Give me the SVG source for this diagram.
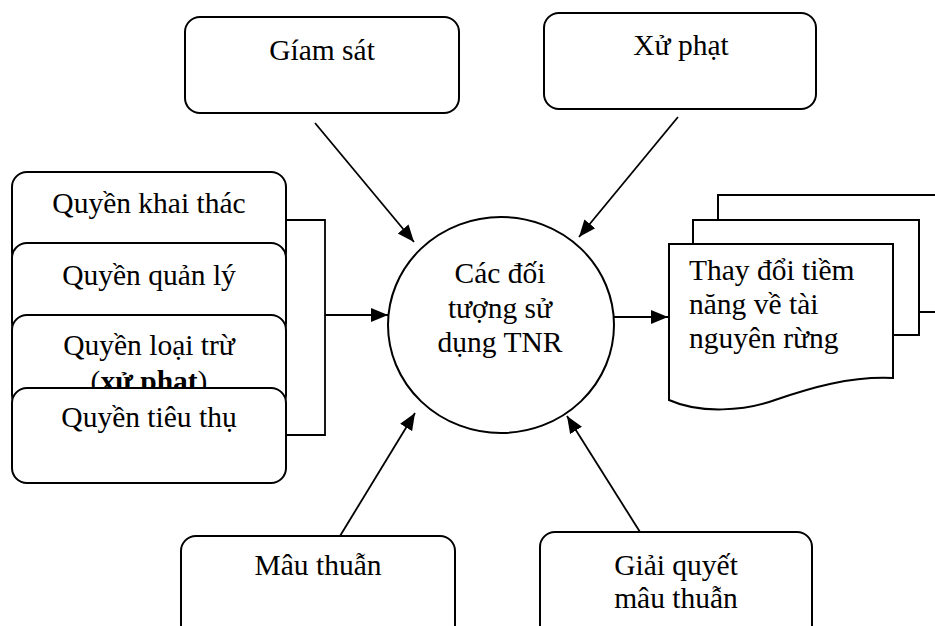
<svg xmlns="http://www.w3.org/2000/svg" width="935" height="626" viewBox="0 0 935 626">
  <style>
    .box { fill: #fff; stroke: #000; stroke-width: 2; }
    .ln { fill: none; stroke: #000; stroke-width: 1.8; }
    .t { font-family: "Liberation Serif", "Times New Roman", serif; font-size: 29.5px; fill: #000; }
    .c { text-anchor: middle; }
  </style>
  <defs>
    <marker id="arrow" markerUnits="userSpaceOnUse" markerWidth="18" markerHeight="16" refX="17" refY="8" orient="auto">
      <path d="M0,1 L17,8 L0,15 Z" fill="#000"/>
    </marker>
  </defs>
  <rect width="935" height="626" fill="#fff"/>

  <!-- connectors -->
  <g id="connectors">
    <line class="ln" x1="315" y1="123" x2="414" y2="242" marker-end="url(#arrow)"/>
    <line class="ln" x1="678" y1="117" x2="579" y2="237" marker-end="url(#arrow)"/>
    <line class="ln" x1="340" y1="536" x2="415" y2="413" marker-end="url(#arrow)"/>
    <line class="ln" x1="640" y1="532" x2="567" y2="416" marker-end="url(#arrow)"/>
    <path class="ln" d="M286,220 H325 V435 H286"/>
    <line class="ln" x1="325" y1="315" x2="388" y2="315" marker-end="url(#arrow)"/>
    <line class="ln" x1="614" y1="317" x2="668" y2="317" marker-end="url(#arrow)"/>
  </g>

  <!-- top boxes -->
  <g id="giam-sat">
    <rect class="box" x="185" y="17" width="274" height="96" rx="15"/>
    <text class="t c" x="322" y="60">Gíam sát</text>
  </g>
  <g id="xu-phat">
    <rect class="box" x="544" y="13" width="272" height="96" rx="15"/>
    <text class="t c" x="681" y="55">Xử phạt</text>
  </g>

  <!-- stacked rights -->
  <g id="quyen-khai-thac">
    <rect class="box" x="12" y="172" width="274" height="95" rx="15"/>
    <text class="t c" x="149" y="213">Quyền khai thác</text>
  </g>
  <g id="quyen-quan-ly">
    <rect class="box" x="12" y="243" width="274" height="95" rx="15"/>
    <text class="t c" x="149" y="285">Quyền quản lý</text>
  </g>
  <g id="quyen-loai-tru">
    <rect class="box" x="12" y="315" width="274" height="95" rx="15"/>
    <text class="t c" x="149" y="355">Quyền loại trừ</text>
    <text class="t c" x="149" y="391">(<tspan font-weight="bold">xử phạt</tspan>)</text>
  </g>
  <g id="quyen-tieu-thu">
    <rect class="box" x="12" y="388" width="274" height="95" rx="15"/>
    <text class="t c" x="149" y="427">Quyền tiêu thụ</text>
  </g>

  <!-- central node -->
  <g id="doi-tuong">
    <ellipse class="box" cx="501" cy="325" rx="113" ry="108"/>
    <text class="t c" x="500" y="283">Các đối</text>
    <text class="t c" x="500" y="318">tượng sử</text>
    <text class="t c" x="500" y="352">dụng TNR</text>
  </g>

  <!-- multi-document output -->
  <g id="thay-doi">
    <path class="box" d="M718,312 V195 H945 V312 Z"/>
    <path class="box" d="M693,335 V220 H919 V335 Z"/>
    <path class="box" d="M669,244 H893 V378 C850,376 810,388 775,400 C745,411 700,414 669,400 Z"/>
    <text class="t" x="689" y="280">Thay đổi tiềm</text>
    <text class="t" x="689" y="314">năng về tài</text>
    <text class="t" x="689" y="348">nguyên rừng</text>
  </g>

  <!-- bottom boxes -->
  <g id="mau-thuan">
    <rect class="box" x="181" y="536" width="274" height="110" rx="15"/>
    <text class="t c" x="318" y="575">Mâu thuẫn</text>
  </g>
  <g id="giai-quyet">
    <rect class="box" x="540" y="532" width="272" height="110" rx="15"/>
    <text class="t c" x="676" y="575">Giải quyết</text>
    <text class="t c" x="676" y="608">mâu thuẫn</text>
  </g>
</svg>
